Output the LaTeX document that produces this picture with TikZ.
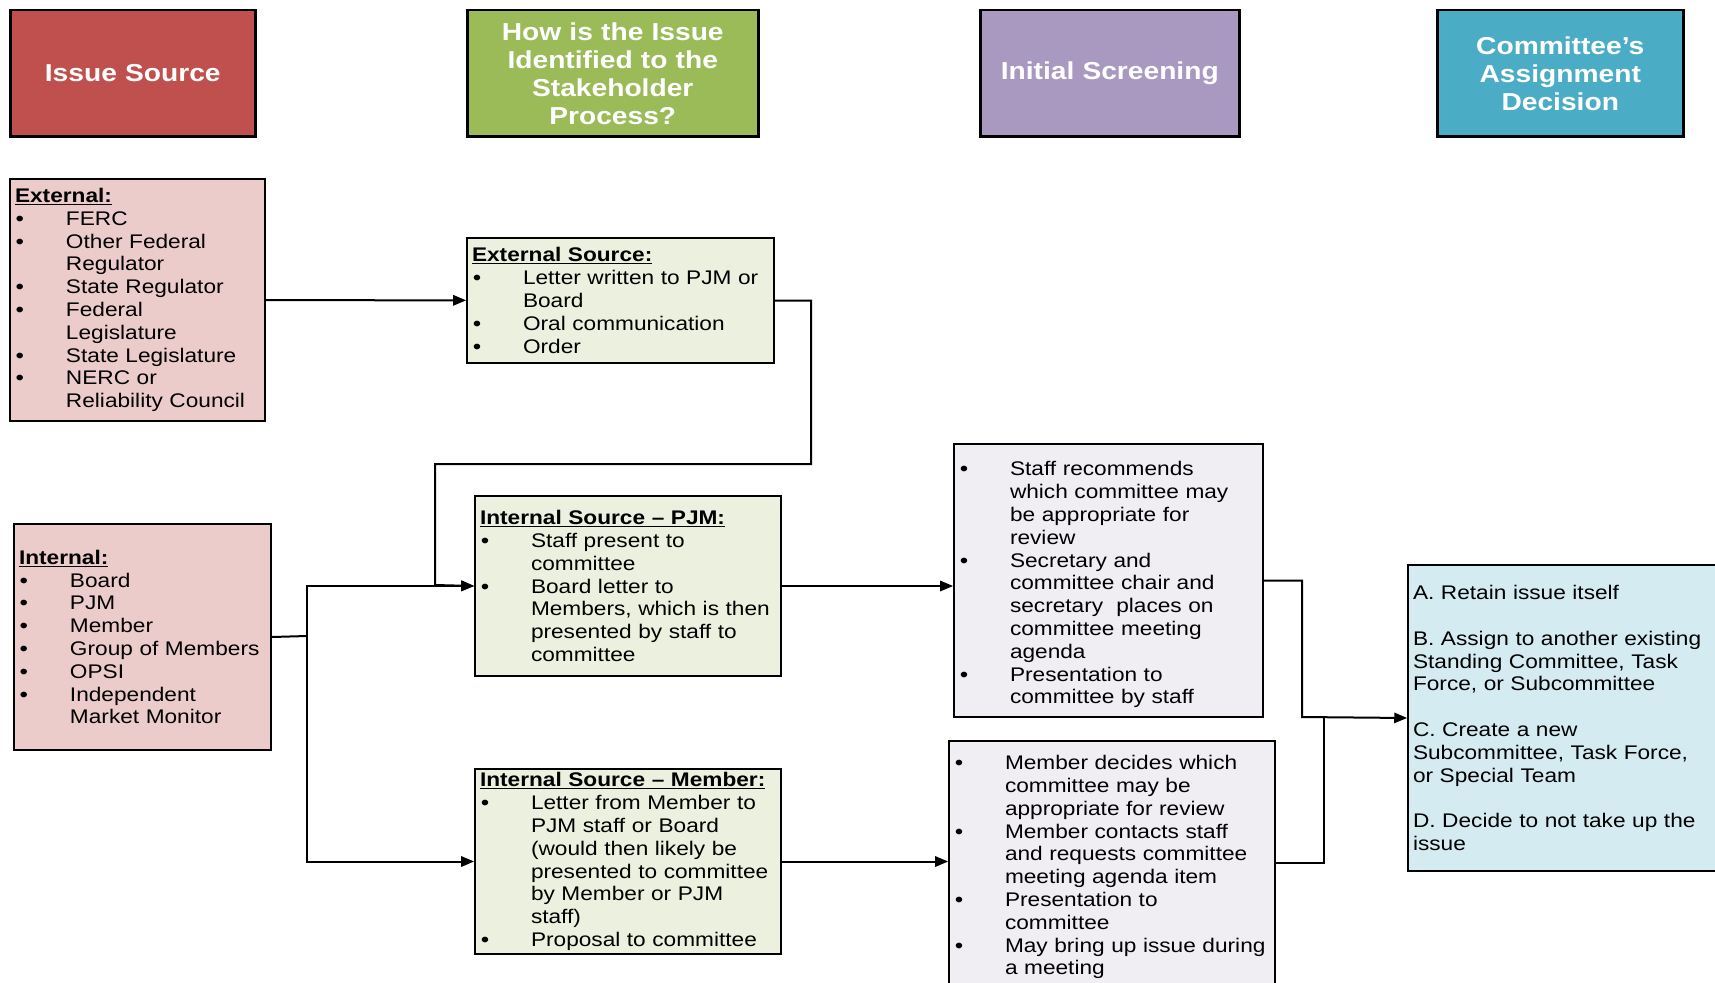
\documentclass[tikz,border=0pt]{standalone}
\usepackage{fontspec}
\setmainfont{Liberation Sans}[FakeStretch=1.15]
\usetikzlibrary{arrows}
\newcommand\bl{\par\hangindent=51pt\hangafter=1\noindent\makebox[51pt][l]{\hspace{1pt}\textbf{\textbullet}}}
\newcommand\hd[1]{\textbf{\underline{#1}}}
\definecolor{head_red}{RGB}{192,80,77}
\definecolor{head_green}{RGB}{155,187,89}
\definecolor{head_purple}{RGB}{169,153,193}
\definecolor{head_teal}{RGB}{75,172,198}
\definecolor{fill_pink}{RGB}{236,203,203}
\definecolor{fill_green}{RGB}{235,241,222}
\definecolor{fill_lav}{RGB}{240,238,243}
\definecolor{fill_blue}{RGB}{212,235,241}

\begin{document}
\begin{tikzpicture}[x=1pt,y=-1pt,->,line width=2pt,>=triangle 45]
    \tikzstyle{head}=[draw=black,line width=2.5pt,rectangle,anchor=north west,minimum height=126pt,inner sep=0pt,align=center,text=white,font=\fontsize{24.5}{28}\selectfont\bfseries]
    \tikzstyle{box}=[draw=black,rectangle,anchor=north west,inner xsep=5pt,inner ysep=0pt,align=left,text=black,font=\fontsize{19.7}{22.8}\selectfont]
    \path[use as bounding box] (0,0) rectangle (1715,982);
    \clip (0,0) rectangle (1715,982);

    % column heads
    \node[head,fill=head_red,minimum width=245pt,text width=235pt]    (hsrc) at (9,9)    {Issue Source};
    \node[head,fill=head_green,minimum width=291pt,text width=281pt]  (hhow) at (466,9)  {How is the Issue\\Identified to the\\Stakeholder\\Process?};
    \node[head,fill=head_purple,minimum width=259pt,text width=249pt] (hscr) at (979,9)  {Initial Screening};
    \node[head,fill=head_teal,minimum width=246pt,text width=236pt]   (hdec) at (1436,9) {Committee’s\\Assignment\\Decision};

    % sources
    \node[box,fill=fill_pink,text width=245pt,minimum height=242pt] (ext) at (9,178) {\hd{External:}
      \bl FERC
      \bl Other Federal\newline Regulator
      \bl State Regulator
      \bl Federal\newline Legislature
      \bl State Legislature
      \bl NERC or\newline Reliability Council\par};
    \node[box,fill=fill_pink,text width=247pt,minimum height=226pt] (int) at (13,523) {\hd{Internal:}
      \bl Board
      \bl PJM
      \bl Member
      \bl Group of Members
      \bl OPSI
      \bl Independent\newline Market Monitor\par};

    % how identified
    \node[box,fill=fill_green,text width=297pt,minimum height=125pt] (extsrc) at (466,237) {\hd{External Source:}
      \bl Letter written to PJM or\newline Board
      \bl Oral communication
      \bl Order\par};
    \node[box,fill=fill_green,text width=296pt,minimum height=180pt] (pjm) at (474,495) {\hd{Internal Source – PJM:}
      \bl Staff present to\newline committee
      \bl Board letter to\newline Members, which is then\newline presented by staff to\newline committee\par};
    \node[box,fill=fill_green,text width=296pt,minimum height=185pt] (mem) at (474,768) {\hd{Internal Source – Member:}
      \bl Letter from Member to\newline PJM staff or Board\newline (would then likely be\newline presented to committee\newline by Member or PJM\newline staff)
      \bl Proposal to committee\par};

    % screening
    \node[box,fill=fill_lav,text width=299pt,minimum height=273pt] (staff) at (953,443) {\bl Staff recommends\newline which committee may\newline be appropriate for\newline review
      \bl Secretary and\newline committee chair and\newline secretary~ places on\newline committee meeting\newline agenda
      \bl Presentation to\newline committee by staff\par};
    \node[box,fill=fill_lav,text width=316pt,minimum height=244pt] (mdec) at (948,740) {\bl Member decides which\newline committee may be\newline appropriate for review
      \bl Member contacts staff\newline and requests committee\newline meeting agenda item
      \bl Presentation to\newline committee
      \bl May bring up issue during\newline a meeting\par};

    % decision
    \node[box,fill=fill_blue,text width=310pt,minimum height=306pt] (dec) at (1407,564) {A. Retain issue itself\\ \mbox{}\\
      B. Assign to another existing\\Standing Committee, Task\\Force, or Subcommittee\\ \mbox{}\\
      C. Create a new\\Subcommittee, Task Force,\\or Special Team\\ \mbox{}\\
      D. Decide to not take up the\\issue};

    \coordinate (jE) at (811,464);
    \coordinate (jX) at (435,585);
    \coordinate (jI) at (307,636);
    \coordinate (jS) at (1302,717);
    \coordinate (jM) at (1324,717);

    \draw (ext) -- (extsrc);
    \draw (extsrc.east) -| (jE) -| (jX) -- (pjm.west);
    \draw[-] (int.east) -- (jI);
    \draw (jI) |- (pjm.west);
    \draw (jI) |- (mem.west);
    \draw (pjm.east) -- (pjm.east -| staff.west);
    \draw (mem.east) -- (mem.east -| mdec.west);
    \draw (staff.east) -| (jS) -- (dec.west);
    \draw[-] (mdec.east) -| (jM);
  \end{tikzpicture}
\end{document}
